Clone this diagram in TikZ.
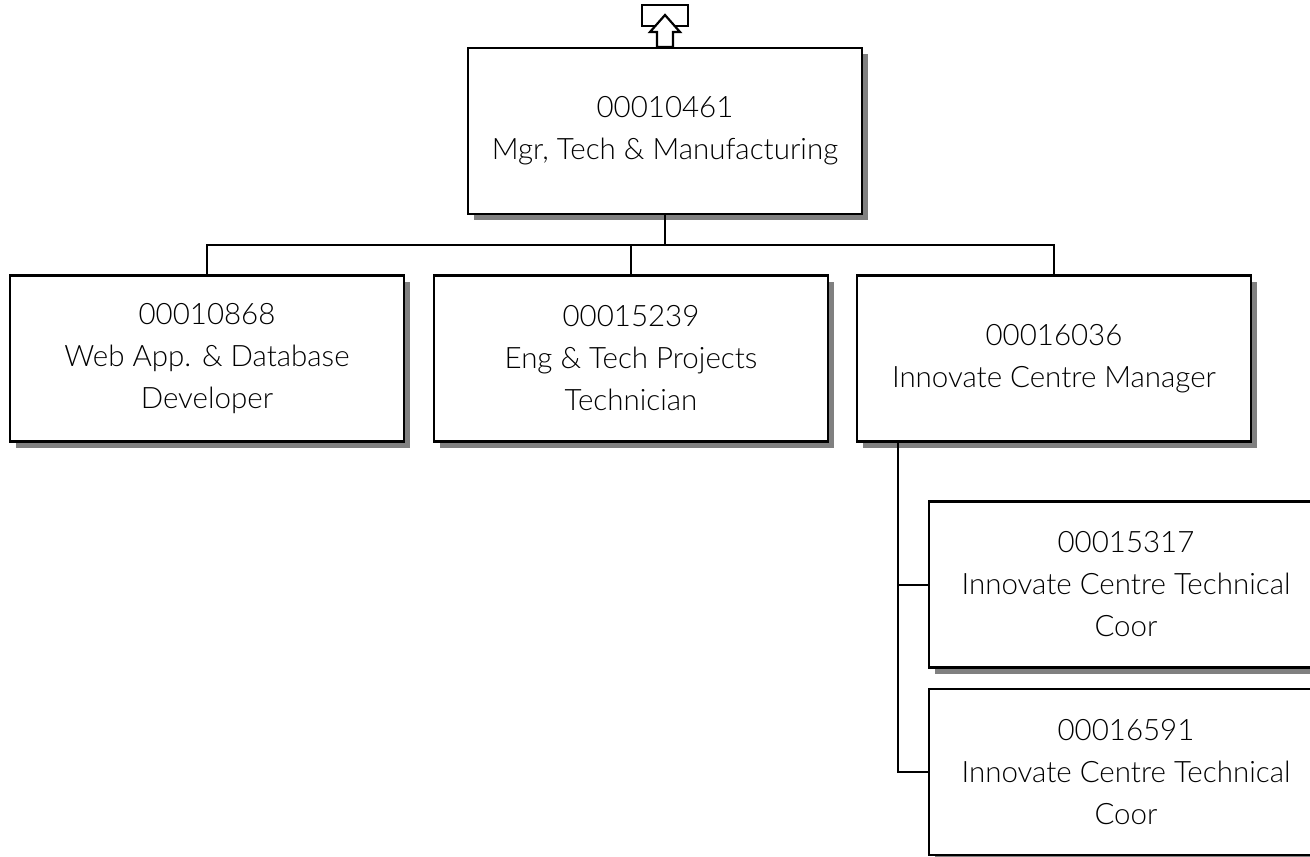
\documentclass[tikz,border=0pt]{standalone}
\usepackage{fontspec}
\setmainfont{Lato Light}
\usetikzlibrary{shadows}
\tikzset{
  posbox/.style={draw, line width=2.4pt, fill=white, minimum width=394pt, minimum height=166pt,
    inner sep=0pt, align=center, font=\fontsize{29.5}{42}\selectfont,
    drop shadow={shadow xshift=6pt, shadow yshift=-6pt, opacity=1, fill=black!50}},
  link/.style={line width=2pt},
  icon/.style={line width=2.2pt, fill=white, line join=miter}
}
\begin{document}
\begin{tikzpicture}[x=1pt,y=-1pt]
\useasboundingbox (0,0) rectangle (1310,857);
% nodes
\node[posbox] (top) at (665,131) {00010461\\Mgr, Tech \& Manufacturing};
\node[posbox] (b1) at (207,358.5) {00010868\\Web App. \& Database\\Developer};
\node[posbox] (b2) at (631,358.5) {00015239\\Eng \& Tech Projects\\Technician};
\node[posbox] (b3) at (1054,358.5) {00016036\\Innovate Centre Manager};
\node[posbox] (c1) at (1126,584.5) {00015317\\Innovate Centre Technical\\Coor};
\node[posbox] (c2) at (1126,772) {00016591\\Innovate Centre Technical\\Coor};
% connectors
\coordinate (hl) at (207,245);
\coordinate (hr) at (1054,245);
\coordinate (vt) at (898,441.5);
\draw[link] (top.south) -- (top.south |- hl);
\draw[link] (b1.north) -- (hl) -- (hr) -- (b3.north);
\draw[link] (b2.north) -- (b2.north |- hl);
\draw[link] (vt) |- (c2.west);
\draw[link] (vt |- c1.west) -- (c1.west);
% up icon
\draw[icon] (642,5) rectangle (688,26);
\draw[icon] (665,15) -- (650,32) -- (657,32) -- (657,47) -- (673,47) -- (673,32) -- (680,32) -- cycle;
\end{tikzpicture}
\end{document}
